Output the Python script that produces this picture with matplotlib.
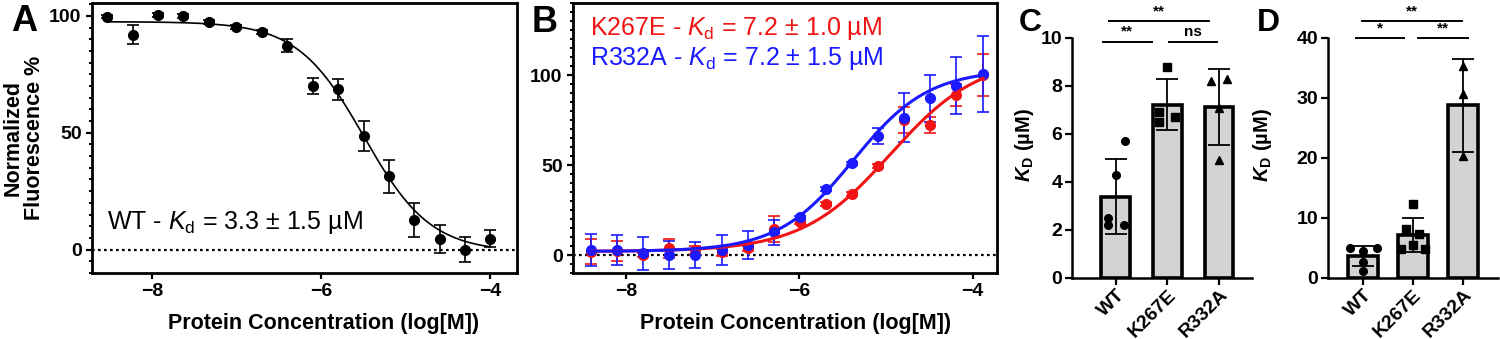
import numpy as np
import matplotlib
matplotlib.use("Agg")
import matplotlib.pyplot as plt
from matplotlib.ticker import MultipleLocator

plt.rcParams['font.family'] = ['Liberation Sans', 'DejaVu Sans']
plt.rcParams['mathtext.fontset'] = 'custom'
plt.rcParams['mathtext.rm'] = 'Liberation Sans'
plt.rcParams['mathtext.it'] = 'Liberation Sans:italic'
plt.rcParams['mathtext.bf'] = 'Liberation Sans:bold'
plt.rcParams['mathtext.bfit'] = 'Liberation Sans:italic:bold'

# ---- panel A : WT titration ----
logc_A = [-8.53, -8.22, -7.93, -7.63, -7.32, -7.01, -6.70, -6.40,
          -6.10, -5.80, -5.49, -5.19, -4.90, -4.59, -4.30, -4.00]
fluo_A = [99.7, 91.9, 100.4, 100.0, 97.3, 95.1, 93.1, 87.3,
          70.0, 68.6, 48.6, 31.4, 12.6, 4.7, 0.0, 4.7]
err_A = [0.8, 4.0, 0.8, 0.8, 0.8, 0.8, 0.8, 2.7,
         3.5, 4.6, 6.6, 7.0, 7.4, 6.0, 5.4, 3.5]
# 4PL fit (bottom, top, logEC50, hill)
fit_A = (-1.0, 97.5, -5.49, -1.1)

# ---- panel B : mutants ----
logc_B = [-8.40, -8.10, -7.80, -7.50, -7.20, -6.89, -6.59, -6.29,
          -5.99, -5.69, -5.39, -5.09, -4.79, -4.49, -4.19, -3.88]
fluo_K267E = [1.9, 2.4, 0.0, 3.7, 2.8, 1.5, 3.7, 14.3,
              18.5, 28.3, 33.9, 49.6, 75.0, 72.2, 89.0, 100.0]
err_K267E = [7.0, 5.5, 1.0, 5.3, 2.2, 2.0, 1.5, 7.2,
             1.0, 1.0, 1.0, 1.0, 7.0, 4.3, 6.0, 11.6]
fluo_R332A = [2.8, 2.8, 0.9, 0.0, 0.0, 2.8, 5.6, 12.6,
              20.9, 36.7, 50.9, 66.1, 76.3, 87.0, 94.0, 100.5]
err_R332A = [9.0, 8.3, 9.0, 7.7, 7.0, 8.3, 8.0, 7.0,
             1.0, 1.0, 1.0, 4.5, 13.6, 13.0, 15.8, 21.0]
fit_K267E = (2.0, 110.0, -4.95, 0.85)
fit_R332A = (2.0, 103.0, -5.38, 1.0)
label_K267E = r"K267E - $\mathit{K}_{\mathrm{d}}$ = 7.2 ± 1.0 µM"
label_R332A = r"R332A - $\mathit{K}_{\mathrm{d}}$ = 7.2 ± 1.5 µM"

# ---- panels C, D : replicate Kd values (µM) ----
groups = ["WT", "K267E", "R332A"]
kd_C = [[5.7, 4.3, 2.5, 2.2, 2.2],
        [8.8, 6.9, 6.5, 6.7],
        [8.2, 8.3, 4.9, 7.1]]
kd_D = [[5.05, 5.05, 4.5, 2.6, 1.2],
        [12.3, 8.1, 7.4, 5.5, 4.8, 4.8],
        [35.4, 30.7, 20.3]]
jit_C = [[0.17, 0.0, -0.15, -0.15, 0.15],
         [0.0, -0.17, -0.17, 0.15],
         [-0.15, 0.16, 0.0, 0.0]]
jit_D = [[-0.27, 0.27, 0.0, 0.0, 0.0],
         [0.0, -0.14, 0.12, 0.0, -0.24, 0.24],
         [0.0, 0.0, 0.0]]
markers = ["o", "s", "^"]
# (x1, x2, y, label)
sig_C = [(-0.25, 0.70, 9.85, "**"), (1.03, 1.96, 9.85, "ns"), (-0.14, 1.80, 10.7, "**")]
sig_D = [(-0.14, 0.82, 40.0, "*"), (1.10, 2.10, 40.0, "**"), (-0.02, 1.98, 42.8, "**")]


def four_pl(x, p):
    bottom, top, ec50, hill = p
    return bottom + (top - bottom) / (1 + 10 ** (hill * (ec50 - x)))


RED = "#f01414"
BLUE = "#1a1aff"
TICK_FS = 14

fig = plt.figure(figsize=(15, 3.39), dpi=100)
W, H = 1500.0, 339.0


def px_axes(l, r, t, b):
    return fig.add_axes([l / W, 1 - b / H, (r - l) / W, (b - t) / H])


def style_box(ax, xlab_x):
    for s in ax.spines.values():
        s.set_linewidth(2.0)
    ax.tick_params(which='major', direction='out', length=4.5, width=1.6,
                   labelsize=TICK_FS, pad=3)
    ax.tick_params(which='minor', direction='out', length=2.5, width=1.4)
    ax.yaxis.set_minor_locator(MultipleLocator(5))
    for lab in ax.get_xticklabels() + ax.get_yticklabels():
        lab.set_fontweight('bold')
    ax.set_xlabel("Protein Concentration (log[M])", fontsize=15.5,
                  fontweight='bold')
    ax.xaxis.set_label_coords(xlab_x, -0.15)
    ax.xaxis.label.set_va('top')


# Panel A
axA = px_axes(92, 517, 3, 273)
axA.axhline(0, color='black', ls=(0, (1.2, 1.5)), lw=1.6, zorder=1)
xs = np.linspace(logc_A[0], logc_A[-1], 300)
axA.plot(xs, four_pl(xs, fit_A), color='black', lw=1.2)
axA.errorbar(logc_A, fluo_A, yerr=err_A, fmt='o', color='black', ms=7,
             capsize=4, elinewidth=1.2, capthick=1.2)
axA.set_xlim(-8.71, -3.68)
axA.set_ylim(-10, 105.5)
axA.set_xticks([-8, -6, -4])
axA.set_yticks([0, 50, 100])
style_box(axA, 0.544)
axA.set_ylabel("Normalized\nFluorescence %", fontsize=15.5, fontweight='bold',
               labelpad=3, linespacing=1.0)
axA.text(0.035, 0.163, r"WT - $\mathit{K}_{\mathrm{d}}$ = 3.3 ± 1.5 µM",
         transform=axA.transAxes, fontsize=18, va='baseline')

# Panel B
axB = px_axes(573, 997, 3, 273)
axB.axhline(0, color='black', ls=(0, (1.2, 1.5)), lw=1.6, zorder=1)
xs = np.linspace(logc_B[0], logc_B[-1], 300)
for y, e, p, c in [(fluo_K267E, err_K267E, fit_K267E, RED),
                   (fluo_R332A, err_R332A, fit_R332A, BLUE)]:
    axB.errorbar(logc_B, y, yerr=e, fmt='o', color=c, ms=7,
                 capsize=4.5, elinewidth=1.2, capthick=1.2, zorder=3)
    axB.plot(xs, four_pl(xs, p), color=c, lw=2.2, zorder=4)
axB.set_xlim(-8.61, -3.72)
axB.set_ylim(-10, 140)
axB.set_xticks([-8, -6, -4])
axB.set_yticks([0, 50, 100])
style_box(axB, 0.526)
axB.text(0.04, 0.881, label_K267E, transform=axB.transAxes, color=RED,
         fontsize=18, va='baseline')
axB.text(0.04, 0.770, label_R332A, transform=axB.transAxes, color=BLUE,
         fontsize=18, va='baseline')


def bar_panel(ax, data, jit, sig, ymax, step, width, xlim, ylab_x):
    pos = np.arange(len(groups))
    means = [np.mean(d) for d in data]
    sds = [np.std(d, ddof=1) for d in data]
    ax.bar(pos, means, width=width, color='#d3d3d3', edgecolor='black',
           linewidth=2.6, zorder=2)
    for i, d in enumerate(data):
        ax.plot(pos[i] + np.array(jit[i]), d, ls='none', marker=markers[i],
                color='black', ms=5.5, zorder=3, clip_on=False)
    ax.errorbar(pos, means, yerr=sds, fmt='none', ecolor='black',
                elinewidth=1.3, capsize=8, capthick=1.3, zorder=4)
    for x1, x2, y, lab in sig:
        ax.plot([x1, x2], [y, y], color='black', lw=1.4, clip_on=False)
        ax.text((x1 + x2) / 2, y + ymax * 0.012, lab, ha='center', va='bottom',
                fontsize=11, fontweight='bold', clip_on=False)
    ax.set_xlim(*xlim)
    ax.set_ylim(0, ymax)
    ax.set_yticks(np.arange(0, ymax + step / 2, step))
    ax.set_xticks(pos)
    ax.set_xticklabels(groups, rotation=45, ha='right', rotation_mode='anchor',
                       fontweight='bold', fontsize=12)
    for lab in ax.get_yticklabels():
        lab.set_fontweight('bold')
    ax.spines['top'].set_visible(False)
    ax.spines['right'].set_visible(False)
    for s in ['left', 'bottom']:
        ax.spines[s].set_linewidth(1.8)
    ax.tick_params(direction='out', length=5, width=1.6, labelsize=TICK_FS)
    ax.tick_params(axis='x', pad=1)
    ax.tick_params(axis='y', pad=2)
    ax.set_ylabel(r"$\mathbfit{K}_{\mathbf{D}}$ (µM)", fontsize=14.5,
                  fontweight='bold')
    ax.yaxis.set_label_coords(ylab_x, 0.554)


axC = px_axes(1072, 1252, 38, 278)
bar_panel(axC, kd_C, jit_C, sig_C, 10, 2, 0.56, (-0.85, 2.64), -0.2)
axD = px_axes(1328, 1498, 38, 278)
bar_panel(axD, kd_D, jit_D, sig_D, 40, 10, 0.6, (-0.7, 2.7), -0.32)

for lab, x, y, size in [("A", 11, 4, 26), ("B", 532, 5, 26),
                        ("C", 1019, 8, 23), ("D", 1257, 8, 23)]:
    fig.text(x / W, 1 - y / H, lab, fontsize=size, fontweight='bold', va='top')

fig.savefig("out.png", dpi=100)
